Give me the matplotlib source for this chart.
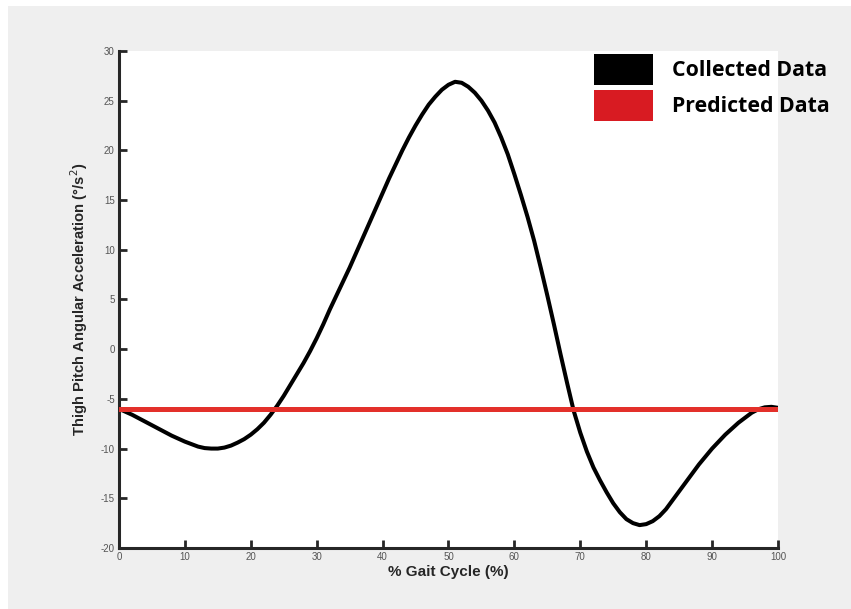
import matplotlib.pyplot as plt
from matplotlib.patches import Rectangle

plt.rcParams['axes.unicode_minus'] = False

# Thigh pitch angular acceleration over one gait cycle
gait_pct = list(range(0, 101))
collected = [-6.0, -6.3, -6.6, -6.95, -7.3, -7.65, -8.0, -8.35, -8.7, -9.0,
             -9.3, -9.55, -9.8, -9.95, -10.0, -10.0, -9.9, -9.7, -9.4, -9.05,
             -8.6, -8.05, -7.4, -6.6, -5.7, -4.7, -3.6, -2.5, -1.4, -0.2,
             1.1, 2.5, 4.0, 5.4, 6.8, 8.2, 9.7, 11.2, 12.7, 14.2,
             15.7, 17.2, 18.6, 20.0, 21.3, 22.5, 23.6, 24.6, 25.4, 26.1,
             26.6, 26.9, 26.8, 26.4, 25.8, 25.0, 24.0, 22.8, 21.3, 19.6,
             17.6, 15.5, 13.3, 10.9, 8.2, 5.4, 2.5, -0.5, -3.4, -6.2,
             -8.4, -10.3, -11.9, -13.2, -14.4, -15.5, -16.4, -17.1, -17.5, -17.7,
             -17.6, -17.3, -16.8, -16.1, -15.2, -14.3, -13.4, -12.5, -11.6, -10.8,
             -10.0, -9.3, -8.6, -8.0, -7.4, -6.9, -6.4, -6.05, -5.85, -5.8,
             -5.9]
predicted_level = -6.0

legend_labels = ['Collected Data', 'Predicted Data']
legend_colors = ['#000000', '#d81b22']

fig = plt.figure(figsize=(8.51, 6.09), dpi=100, facecolor='#efefef')
# thin white border on the top and left edges
fig.patches.append(Rectangle((0, 1 - 6 / 609), 1, 6 / 609, transform=fig.transFigure,
                             facecolor='white', edgecolor='none', zorder=0))
fig.patches.append(Rectangle((0, 0), 8 / 851, 1, transform=fig.transFigure,
                             facecolor='white', edgecolor='none', zorder=0))

ax = fig.add_axes([0.1398, 0.1002, 0.7744, 0.8161])
ax.set_facecolor('white')

ax.plot(gait_pct, collected, color='black', lw=2.9, solid_capstyle='round',
        solid_joinstyle='round', zorder=3)
ax.axhline(predicted_level, color='#e3302a', lw=3.6, zorder=4)

ax.set_xlim(0, 100)
ax.set_ylim(-20, 30)
ax.set_xticks(range(0, 101, 10))
ax.set_yticks(range(-20, 31, 5))

for side in ['top', 'right']:
    ax.spines[side].set_visible(False)
for side in ['left', 'bottom']:
    ax.spines[side].set_linewidth(2.2)
    ax.spines[side].set_color('#262626')
ax.tick_params(direction='in', length=6, width=2.0, color='#262626',
               labelsize=7, labelcolor='#555555', pad=3)
for lab in ax.get_xticklabels() + ax.get_yticklabels():
    lab.set_family('Liberation Sans')

ax.set_xlabel('% Gait Cycle (%)', fontsize=11, fontweight='bold', color='#262626',
              family='Liberation Sans', labelpad=2)
ax.set_ylabel('Thigh Pitch Angular Acceleration (°/s$^2$)', fontsize=10.6, fontweight='bold',
              color='#262626', family='Liberation Sans', labelpad=8)

# legend drawn as colored blocks with large labels
for i, (label, color) in enumerate(zip(legend_labels, legend_colors)):
    top = 54 + i * 36
    fig.patches.append(Rectangle((594 / 851, 1 - (top + 31) / 609), 59 / 851, 31 / 609,
                                 transform=fig.transFigure, facecolor=color,
                                 edgecolor='none', zorder=5))
    fig.text(672 / 851, 1 - (top + 17) / 609, label, fontsize=15.3, fontweight='bold',
             family=['Open Sans', 'DejaVu Sans'], va='center', ha='left', color='black')

fig.savefig('out.png', dpi=100, facecolor=fig.get_facecolor())
